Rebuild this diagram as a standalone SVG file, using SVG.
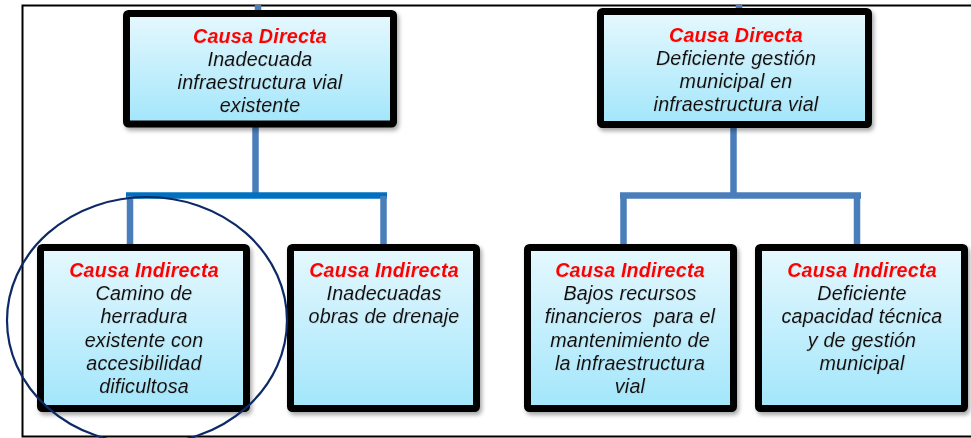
<svg xmlns="http://www.w3.org/2000/svg" width="971" height="438" viewBox="0 0 971 438">
<style>
.box{stroke:#000;stroke-width:7;fill:url(#g);filter:url(#sh)}
.t{font-family:"Liberation Sans",Arial,sans-serif;font-size:19.7px;font-style:italic;text-anchor:middle;letter-spacing:0.2px;filter:url(#ts)}
.h{fill:#FF0000;font-weight:bold}
.b{fill:#111}
.c{stroke:#4A7EBB;stroke-width:6.5;fill:none}
.cb{stroke:#0070C0;stroke-width:6.5;fill:none}
.frame{stroke:#000;stroke-width:2;fill:none}
</style>
<defs>
<linearGradient id="g" x1="0" y1="0" x2="0" y2="1">
<stop offset="0" stop-color="#E6F8FE"/>
<stop offset="1" stop-color="#A2E6FB"/>
</linearGradient>
<filter id="sh" x="-10%" y="-10%" width="125%" height="125%">
<feDropShadow dx="2" dy="3" stdDeviation="2" flood-color="#000" flood-opacity="0.35"/>
</filter>
<filter id="ts" x="-5%" y="-20%" width="110%" height="150%">
<feDropShadow dx="0.5" dy="0.5" stdDeviation="0.4" flood-color="#888" flood-opacity="0.35"/>
</filter>
</defs>
<rect width="971" height="438" fill="#fff"/>
<g id="frame">
<path class="frame" d="M971 5.5H22.5V436.5H971"/>
</g>
<g id="connectors">
<path class="c" d="M258 5V13"/>
<path class="c" d="M739 5V11"/>
<path class="c" d="M255.5 127V195"/>
<path class="cb" d="M126 195.5H387"/>
<path class="c" d="M130 196V245M383.5 196V245"/>
<path class="c" d="M733.5 128V195.5M620 195.5H861M623.5 195V245M857 195V245"/>
</g>
<g id="n1">
<rect class="box" x="126.5" y="13.5" width="267" height="110.5" rx="2"/>
<text class="t h" x="260" y="43">Causa Directa</text>
<text class="t b" x="260" y="66">Inadecuada</text>
<text class="t b" x="260" y="89">infraestructura vial</text>
<text class="t b" x="260" y="112">existente</text>
</g>
<g id="n2">
<rect class="box" x="600.5" y="11.5" width="268" height="113" rx="2"/>
<text class="t h" x="736" y="42">Causa Directa</text>
<text class="t b" x="736" y="65">Deficiente gestión</text>
<text class="t b" x="736" y="88">municipal en</text>
<text class="t b" x="736" y="111">infraestructura vial</text>
</g>
<g id="n3">
<rect class="box" x="40.5" y="247.5" width="206" height="161" rx="2"/>
<text class="t h" x="144" y="277">Causa Indirecta</text>
<text class="t b" x="144" y="300">Camino de</text>
<text class="t b" x="144" y="323">herradura</text>
<text class="t b" x="144" y="347">existente con</text>
<text class="t b" x="144" y="370">accesibilidad</text>
<text class="t b" x="144" y="393">dificultosa</text>
</g>
<g id="n4">
<rect class="box" x="290.5" y="247.5" width="186" height="161" rx="2"/>
<text class="t h" x="384" y="277">Causa Indirecta</text>
<text class="t b" x="384" y="300">Inadecuadas</text>
<text class="t b" x="384" y="323">obras de drenaje</text>
</g>
<g id="n5">
<rect class="box" x="527.5" y="247.5" width="206" height="161" rx="2"/>
<text class="t h" x="630" y="277">Causa Indirecta</text>
<text class="t b" x="630" y="300">Bajos recursos</text>
<text class="t b" x="630" y="323" xml:space="preserve">financieros  para el</text>
<text class="t b" x="630" y="347">mantenimiento de</text>
<text class="t b" x="630" y="370">la infraestructura</text>
<text class="t b" x="630" y="393">vial</text>
</g>
<g id="n6">
<rect class="box" x="758.5" y="247.5" width="206" height="161" rx="2"/>
<text class="t h" x="862" y="277">Causa Indirecta</text>
<text class="t b" x="862" y="300">Deficiente</text>
<text class="t b" x="862" y="323">capacidad técnica</text>
<text class="t b" x="862" y="347">y de gestión</text>
<text class="t b" x="862" y="370">municipal</text>
</g>
<g id="highlight">
<ellipse cx="147" cy="320.5" rx="140" ry="123.5" fill="none" stroke="#0D2A66" stroke-width="2.2"/>
</g>
</svg>
